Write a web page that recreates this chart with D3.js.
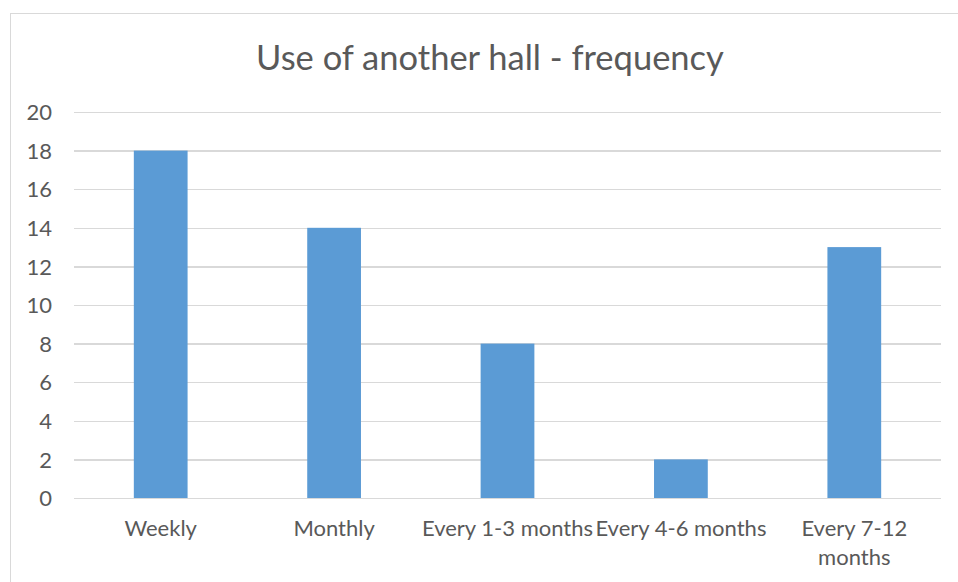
<!DOCTYPE html>
<html lang="en">
<head>
  <meta charset="UTF-8">
  <title>Use of another hall - frequency</title>
  <script src="https://d3js.org/d3.v7.min.js"></script>
  <style>
    body { margin: 0; background: #fff; }
    svg { font-family: "Lato", "Open Sans", sans-serif; }
    .grid line { stroke: #d9d9d9; stroke-width: 1.5px; shape-rendering: crispEdges; }
    .grid .domain { display: none; }
    .tick text { fill: #595959; font-size: 22px; font-family: "Lato", "Open Sans", sans-serif; }
    .x-axis .domain, .x-axis line { display: none; }
  </style>
</head>
<body>
  <div class="chart"></div>
  <script>
    const categories = ["Weekly", "Monthly", "Every 1-3 months", "Every 4-6 months", "Every 7-12 months"];
    const counts = [18, 14, 8, 2, 13];
    const yTicks = [0, 2, 4, 6, 8, 10, 12, 14, 16, 18, 20];

    const width = 958, height = 582;
    const margin = {top: 112, right: 17, bottom: 84, left: 74};
    const innerW = width - margin.left - margin.right;
    const innerH = height - margin.top - margin.bottom;

    const svg = d3.select(".chart")
      .append("svg")
        .attr("width", width)
        .attr("height", height);

    // chart border
    svg.append("rect")
      .attr("x", 10.5)
      .attr("y", 13.5)
      .attr("width", 960)
      .attr("height", 600)
      .attr("fill", "none")
      .attr("stroke", "#d9d9d9")
      .attr("stroke-width", 1);

    svg.append("text")
      .attr("x", 490)
      .attr("y", 70)
      .attr("text-anchor", "middle")
      .attr("fill", "#595959")
      .style("font-size", "34.5px")
      .text("Use of another hall - frequency");

    const g = svg.append("g")
      .attr("transform", `translate(${margin.left},${margin.top})`);

    const x = d3.scaleBand()
      .domain(categories)
      .range([0, innerW])
      .paddingInner(0.69)
      .paddingOuter(0.345);

    const y = d3.scaleLinear()
      .domain([0, 20])
      .range([innerH, 0]);

    g.append("g")
      .attr("class", "grid")
      .call(d3.axisLeft(y).tickValues(yTicks).tickSize(-innerW).tickPadding(22))
      .selectAll(".tick text")
        .attr("dy", "0.35em");

    g.selectAll(".bar")
      .data(counts)
      .join("rect")
        .attr("class", "bar")
        .attr("x", (d, i) => x(categories[i]))
        .attr("y", d => y(d))
        .attr("width", x.bandwidth())
        .attr("height", d => innerH - y(d))
        .attr("fill", "#5b9bd5");

    const xAxis = g.append("g")
      .attr("class", "x-axis")
      .attr("transform", `translate(0,${innerH})`)
      .call(d3.axisBottom(x).tickSize(0).tickPadding(22));

    // wrap long labels like excel does
    xAxis.selectAll(".tick text").each(function() {
      const text = d3.select(this);
      const maxW = x.step();
      if (this.getComputedTextLength() <= maxW) return;
      const words = text.text().split(" ");
      text.text(null);
      let line = [];
      let tspan = text.append("tspan").attr("x", 0).attr("dy", "0.71em");
      words.forEach(w => {
        line.push(w);
        tspan.text(line.join(" "));
        if (tspan.node().getComputedTextLength() > maxW - 20 && line.length > 1) {
          line.pop();
          tspan.text(line.join(" "));
          line = [w];
          tspan = text.append("tspan").attr("x", 0).attr("dy", "1.35em").text(w);
        }
      });
    });
  </script>
</body>
</html>
